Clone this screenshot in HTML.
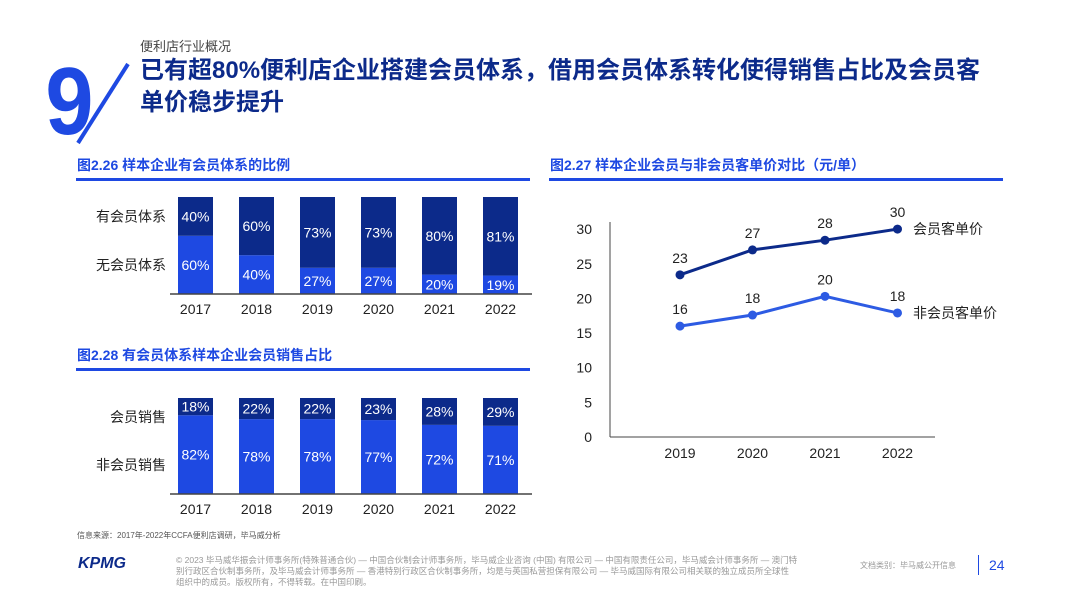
<!DOCTYPE html>
<html><head><meta charset="utf-8"><style>
body{margin:0;width:1080px;height:608px;background:#fff;overflow:hidden;font-family:"Liberation Sans","Noto Sans CJK SC",sans-serif;position:relative}
.a{position:absolute;white-space:nowrap}
</style></head><body>
<svg class="a" style="left:40px;top:50px" width="110" height="100">
<text x="2" y="84" font-size="96" font-weight="bold" fill="#1e49e2" font-family="Liberation Sans,sans-serif" transform="scale(0.9,1) translate(4,0)">9</text>
<line x1="38" y1="93" x2="88" y2="14" stroke="#1e49e2" stroke-width="4"/>
</svg>
<div class="a" style="left:140px;top:36px;font-size:13px;color:#444">便利店行业概况</div>
<div class="a" style="left:140px;top:55px;font-size:24px;font-weight:bold;color:#0c2a8a;line-height:32px">已有超80%便利店企业搭建会员体系，借用会员体系转化使得销售占比及会员客<br>单价稳步提升</div>
<div class="a" style="left:77px;top:155px;font-size:14px;font-weight:bold;color:#1e49e2">图2.26 样本企业有会员体系的比例</div>
<div class="a" style="left:76px;top:178px;width:454px;height:3px;background:#1e49e2"></div>
<div class="a" style="left:77px;top:345px;font-size:14px;font-weight:bold;color:#1e49e2">图2.28 有会员体系样本企业会员销售占比</div>
<div class="a" style="left:76px;top:368px;width:454px;height:3px;background:#1e49e2"></div>
<div class="a" style="left:550px;top:155px;font-size:14px;font-weight:bold;color:#1e49e2">图2.27 样本企业会员与非会员客单价对比（元/单）</div>
<div class="a" style="left:549px;top:178px;width:454px;height:3px;background:#1e49e2"></div>
<svg class="a" id="c" style="left:0;top:0" width="1080" height="608"></svg>
<div class="a" style="left:77px;top:530px;font-size:8px;color:#555">信息来源：2017年-2022年CCFA便利店调研，毕马威分析</div>
<div class="a" style="left:78px;top:555px;font-size:16px;font-weight:bold;font-style:italic;color:#0c2a8a">KPMG</div>
<div class="a" style="left:176px;top:555px;font-size:8.5px;color:#999;line-height:11px">© 2023 毕马威华振会计师事务所(特殊普通合伙) — 中国合伙制会计师事务所，毕马威企业咨询 (中国) 有限公司 — 中国有限责任公司，毕马威会计师事务所 — 澳门特<br>别行政区合伙制事务所，及毕马威会计师事务所 — 香港特别行政区合伙制事务所，均是与英国私营担保有限公司 — 毕马威国际有限公司相关联的独立成员所全球性<br>组织中的成员。版权所有，不得转载。在中国印刷。</div>
<div class="a" style="left:860px;top:560px;font-size:8px;color:#999">文档类别：毕马威公开信息</div>
<div class="a" style="left:978px;top:555px;width:1px;height:20px;background:#1e49e2"></div>
<div class="a" style="left:989px;top:557px;font-size:14px;color:#1e49e2">24</div>
<script>
const years=["2017","2018","2019","2020","2021","2022"];
const hasMember=[40,60,73,73,80,81];
const noMember=[60,40,27,27,20,19];
const memberSales=[18,22,22,23,28,29];
const nonMemberSales=[82,78,78,77,72,71];
const lineYears=["2019","2020","2021","2022"];
const memberPrice=[23.4,27,28.4,30];
const nonMemberPrice=[16,17.6,20.3,17.9];
const yTicks=[0,5,10,15,20,25,30];
const NS="http://www.w3.org/2000/svg",svg=document.getElementById('c');
function mk(t,a,p){const e=document.createElementNS(NS,t);for(const k in a)e.setAttribute(k,a[k]);(p||svg).appendChild(e);return e}
function txt(x,y,s,opt){const e=mk('text',Object.assign({x:x,y:y,'font-size':14,fill:'#222','text-anchor':'middle','font-family':'Liberation Sans,Noto Sans CJK SC,sans-serif'},opt||{}));e.textContent=s;return e}
function stack(top,base,bottomVals,topVals,lblTop,lblBot,pre){
 const h=base-top,bx=i=>178+i*61,w=35;
 years.forEach((y,i)=>{
  const hb=bottomVals[i]/100*h,ht=topVals[i]/100*h;
  const r1=mk('rect',{x:bx(i),y:base-hb,width:w,height:hb,fill:'#1e49e2'});
  
  const r2=mk('rect',{x:bx(i),y:base-hb-ht,width:w,height:ht,fill:'#0c2a8a'});
  
  txt(bx(i)+w/2,base-hb-ht/2+5,topVals[i]+'%',{fill:'#fff'});
  txt(bx(i)+w/2,base-hb/2+5,bottomVals[i]+'%',{fill:'#fff'});
  const t=txt(bx(i)+w/2,base+20,y);
 });
 mk('line',{x1:170,x2:532,y1:base,y2:base,stroke:'#444','stroke-width':1.5});
 txt(166,top+h*0.2+5,lblTop,{'text-anchor':'end'});
 txt(166,base-h*0.3+5,lblBot,{'text-anchor':'end'});
}
stack(197,294,noMember,hasMember,'有会员体系','无会员体系','membership');
stack(398,494,nonMemberSales,memberSales,'会员销售','非会员销售','sales');
const X=i=>680+i*72.5,Y=v=>437-v*6.93;
mk('line',{x1:610,x2:610,y1:222,y2:437,stroke:'#444'});
mk('line',{x1:610,x2:935,y1:437,y2:437,stroke:'#444'});
yTicks.forEach(t=>txt(592,Y(t)+5,String(t),{'text-anchor':'end'}));
lineYears.forEach((y,i)=>txt(X(i),458,y));
function series(vals,col,name,label){
 const p=mk('polyline',{points:vals.map((v,i)=>X(i)+','+Y(v)).join(' '),fill:'none',stroke:col,'stroke-width':3});
 
 vals.forEach((v,i)=>{const c=mk('circle',{cx:X(i),cy:Y(v),r:4.5,fill:col});
  
  txt(X(i),Y(v)-12,String(Math.round(v)));});
 const l=txt(913,Y(vals[vals.length-1])+5,label,{'text-anchor':'start'});
 
}
series(memberPrice,'#0c2a8a','member-price','会员客单价');
series(nonMemberPrice,'#2d5be3','nonmember-price','非会员客单价');
</script>
</body></html>
